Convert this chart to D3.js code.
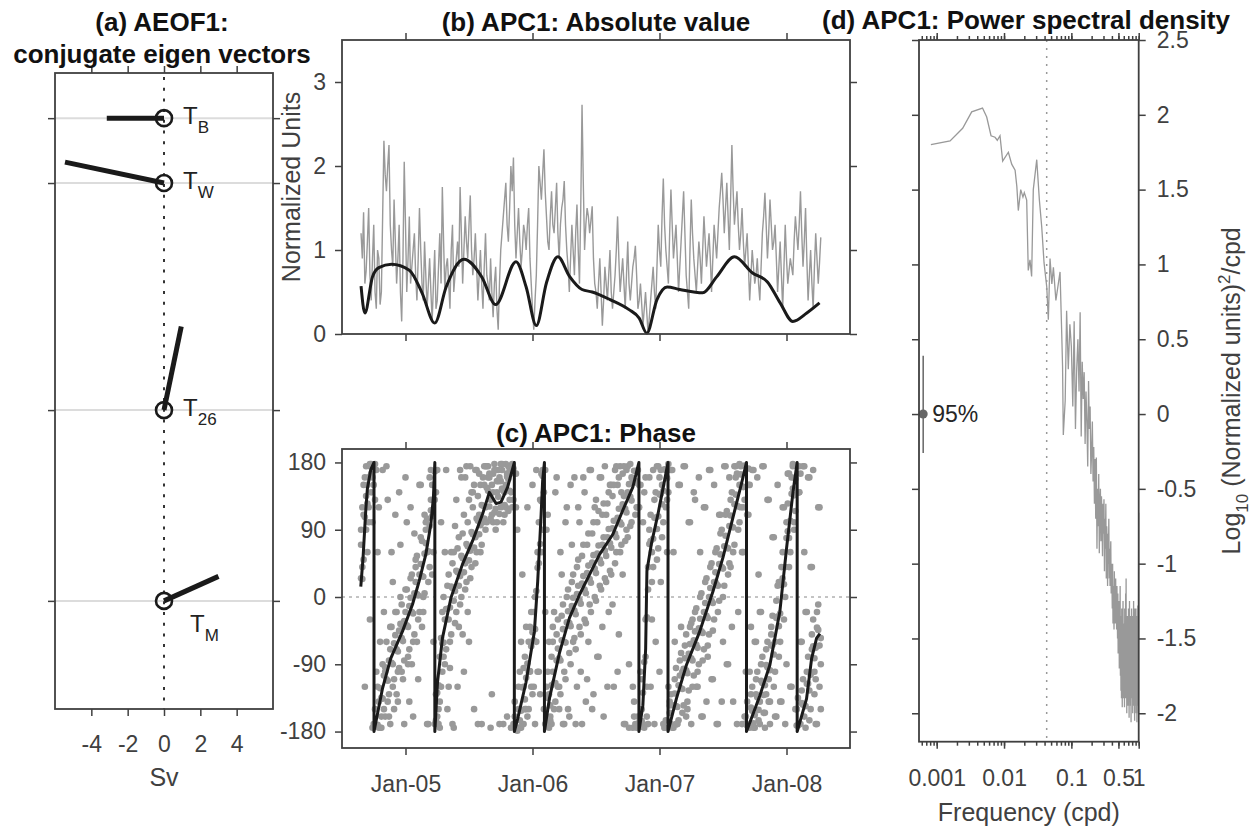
<!DOCTYPE html>
<html>
<head>
<meta charset="utf-8">
<script src="https://cdn.jsdelivr.net/npm/d3@7"></script>
<style>body{margin:0;background:#fff}</style>
</head>
<body>
<script>
// ---------------- data ----------------
// (a) conjugate eigen vector per layer
var eofNames  = ['B', 'W', '26', 'M'];
var eofLevels = [0.71, 1.73, 5.30, 8.30];
var eofU      = [-3.15, -5.45, 0.95, 3.0];
var eofV      = [0, 1.15, 4.6, 1.35];
var svTicks   = [-4, -2, 0, 2, 4];

// time axis (decimal years); samples every sampleStep, "half" arrays sit between them
var yearTicks  = [2005, 2006, 2007, 2008];
var yearLabels = ['Jan-05', 'Jan-06', 'Jan-07', 'Jan-08'];
var sampleStart = 2004.65, sampleStep = 0.02;

// (b) absolute value
var absRaw = [1.2,1.45,0.75,1.5, 0.4,1.3,0.3,0.9,0.5, 2.3,1.7, 2.25, 1.0,1.6,0.6,1.3,0.15, 2.05,
  0.5,1.4,0.8,1.2,0.4,1.5,0.6,1.1, 0.3,0.9,0.15,1.0,0.4,1.2,1.75, 0.5,0.9,0.3,1.3,0.7,1.1,
  1.75,0.6,1.4,0.9,1.65,0.7,1.2, 0.4,1.0,0.3,1.2,0.6,0.9,0.2,0.8,0.05,1.0, 1.4,1.8,1.1,2.0,2.1,
  0.9,1.5,0.8,1.3,1.0,1.5,0.6, 0.05,0.7,2.0,1.6,2.2,1.4, 1.0,1.7,1.2,1.8,0.9,1.5,1.82,1.0,
  0.5,1.3,0.7,1.54,0.6, 2.73, 1.0,1.5,1.2,1.52, 0.6,0.3,0.9,0.1,0.8,0.4,1.0,0.3,0.7, 1.4,
  0.5,0.9,0.3,1.1,0.4,0.8,1.05, 0.3,0.6,0.1,0.5,0.0, 0.4,0.8,0.3,1.3, 0.8,1.85,1.0,
  0.6,1.72,0.9,1.3,0.5,1.1,1.7, 0.7,0.3,1.6,0.9,0.5, 1.1,0.6,1.4,0.8,1.2,0.5,1.3, 0.9,1.5,1.92,
  1.2,1.8,1.0,2.25, 1.3,1.7,1.0,1.5,0.8,1.2, 0.4,1.0,0.6,0.9,0.4, 1.2,1.68,0.9,1.6,1.0,1.3,
  0.5,1.1,0.3,1.3,0.6,0.9, 0.7,1.4,1.0,1.7,0.8,1.5, 0.4,1.0,0.3,1.2,0.6,1.15];
var absRawHalf = [0.9,0.6,1.1,0.7,0.9,0.5,1.0,0.35,1.4, 1.9,2.0,1.3,0.8,1.1,0.9,0.5,0.9,
  1.3,0.9,0.6,1.0,0.7,0.9,1.0,0.4,0.7, 0.6,0.5,0.6,0.3,0.8,0.6,1.1, 0.8,0.6,1.0,0.5,0.9,0.8,
  1.2,1.0,1.1,1.3,1.0,0.9,0.8, 0.7,0.6,0.8,0.7,0.4,0.5,0.6,0.3,0.6,1.2, 1.6,1.3,1.5,1.7,1.3,
  1.2,1.1,1.0,1.2,1.3,0.9,0.3, 0.4,1.3,1.8,1.9,1.7,1.1, 1.4,1.3,1.5,1.2,1.3,1.6,1.3,0.8,
  0.9,1.0,1.2,1.0,1.5, 1.8, 1.3,1.4,1.35,0.9, 0.5,0.6,0.5,0.4,0.6,0.7,0.5,0.5,1.0, 0.9,
  0.7,0.6,0.7,0.6,0.6,0.9,0.7, 0.4,0.35,0.3,0.25,0.2, 0.6,0.5,0.8,1.0, 1.4,1.3,0.8,
  1.2,1.3,1.1,0.9,0.8,1.4,1.2, 0.5,1.0,1.2,0.7,0.8, 0.9,1.0,1.1,1.0,0.9,0.9,1.1, 1.2,1.7,1.6,
  1.5,1.4,1.6,1.7, 1.5,1.3,1.2,1.1,1.0,0.8, 0.7,0.8,0.7,0.6,0.8, 1.4,1.3,1.2,1.3,1.1,0.9,
  0.8,0.7,0.8,0.9,0.75,0.8, 1.1,1.2,1.3,1.2,1.1,0.9, 0.7,0.6,0.8,0.9,0.85];
var absSmoothT = [2004.65,2004.68,2004.74,2004.79,2004.89,2005.03,2005.13,2005.23,2005.32,2005.46,
  2005.60,2005.71,2005.87,2005.95,2006.03,2006.11,2006.20,2006.29,2006.39,2006.47,2006.61,2006.76,
  2006.84,2006.90,2006.98,2007.06,2007.16,2007.34,2007.45,2007.59,2007.73,2007.85,2007.95,2008.05,
  2008.16,2008.26];
var absSmoothV = [0.57,0.25,0.68,0.79,0.83,0.76,0.49,0.13,0.56,0.89,0.68,0.35,0.86,0.56,0.10,0.61,
  0.92,0.69,0.53,0.50,0.41,0.29,0.19,0.01,0.41,0.56,0.53,0.49,0.68,0.92,0.73,0.62,0.37,0.15,0.25,0.37];
var absTicks = [0, 1, 2, 3];

// (c) phase dots (degrees)
var phaseTicks = [-180, -90, 0, 90, 180];
var phaseNear = [25,50,135,160,165,175,-172,-140,-135,-105, -110,-85,-88,-62,-70,-45,-55,-32,-38,-12,
  -20,5,4,30,28,58,60,95,108,168, -128,-80,-62,-30,-16,-14,12,8,33,28, 52,45,68,62,84,80,102,96,122,120,
  142,130,140,118,134,120,142,150,158,170, 172,-176,-150,-152,-120,-108,-100,-66,-58,8,
  45,128,170,-168,-130,-118,-115,-85,-82,-58, -60,-34,-35,-12,-18,4,-4,18,10,32,
  24,46,38,58,50,70,62,80,72,92, 85,106,100,124,118,140,134,156,155,170,
  -174,-128,-80,40,75,78,106,108,138,142, 170,178,-170,-145,-146,-118,-122,-96,-98,-76,
  -82,-58,-64,-42,-46,-20,-25,0,-5,20, 17,44,40,68,66,95,94,124,122,150,
  148,176,-172,-175,-152,-158,-134,-140,-115,-118, -94,-98,-64,-60,-26,-22,25,40,88,102,
  145,158,-172,-170,-144,-146,-116,-104,-66,-68, -44,-55];
var phaseMid = [70,110,90,120,140,150,170,-175,-160,-150, -60,-130,-40,-110,-20,-95,-10,-85,10,-70,
  30,-50,55,-20,75,5,105,40,150,130, -160,-140,-20,-90,15,-60,45,-35,65,-10,
  85,10,100,25,120,45,135,60,160,90, 175,105,165,90,170,155,100,178,115,140,
  -170,165,-120,-175,-95,-150,-60,-120,-20,-60, 100,60,140,-120,-175,-80,-150,-50,-120,-25,
  -100,0,-75,20,-55,40,-40,55,-30,70, -10,85,0,100,15,110,25,125,35,135,
  45,150,60,165,75,175,95,-175,110,-160, 150,-170,-30,10,110,40,140,65,170,100,
  -165,140,-130,-175,-95,-165,-75,-145,-50,-125, -35,-105,-15,-90,5,-70,25,-50,45,-30,
  65,-5,90,15,115,45,140,70,165,100, -170,130,-140,150,-120,-175,-100,-170,-80,-155,
  -60,-140,-25,-100,15,-60,60,0,125,60, 175,115,-135,165,-110,-175,-80,-150,-30,-110, -10,-90];
var phaseFar = [90,150,175,100,178,-170,-100,120,-175,-20, 175,-160,60,-150,-130,140,-100,-170,100,-140,
  -90,85,-60,150,-40,110,-170,160,30,-170, 170,-175,-100,60,-150,-95,-170,95,-120,170,
  -50,160,-20,175,140,170,-170,150,100,175, 160,-175,100,170,155,178,-170,120,175,-175,
  130,120,-175,-60,-170,-40,-150,-20,-120,170, -100,165,-150,90,-60,-170,-20,160,-150,30,
  -170,120,-160,70,160,-120,100,-170,140,-110, 170,-150,120,-80,160,-40,175,-120,150,-10,
  170,-100,175,30,-170,80,178,-120,-170,120, -100,100,160,-170,-120,170,-60,175,20,-170,
  120,-120,170,60,-170,150,-40,175,-160,100, -170,140,-120,160,-160,120,-140,170,-110,150,
  -170,110,-140,175,-90,160,-40,175,-170,178, 60,-160,110,-100,170,-60,160,-20,175,-175,
  130,-170,80,-160,150,-140,120,-170,165,-120, 178,-150,140,-60,175,-20,160,40,170,-170, 120,-150];
var phaseNearHalf = [24,107,125,178,160,178,-171,-122,-136,-94, -112,-70,-90,-51,-73,-36,-59,-20,-40,-1,
  -22,20,2,44,27,72,61,116,130,-165, -118,-55,-61,-16,-30,14,-5,35,15,55, 33,71,49,87,66,105,84,123,105,146,
  121,150,113,140,111,145,123,161,142,175, 165,-179,-165,-121,-137,-89,-99,-47,-43,39,
  71,162,170,-135,-145,-100,-115,-69,-85,-43, -61,-19,-39,-1,-23,15,-9,28,5,42,
  19,56,32,69,45,80,55,91,66,102, 80,118,97,135,113,151,129,169,153,-168,
  -166,-87,-27,71,60,106,91,137,124,171, 159,-155,-172,-129,-147,-105,-123,-82,-102,-63,
  -85,-46,-68,-29,-48,-8,-28,12,-8,33, 15,57,38,82,65,109,93,137,121,164,
  147,-169,172,-148,-169,-130,-151,-112,-131,-91, -110,-65,-77,-28,-39,16,17,79,79,138,
  136,-172,175,-142,-160,-116,-125,-70,-82,-41, -65];
var phaseMidHalf = [120,160,60,175,-175,130,-120,-175,-90,-160, -140,-40,-120,-20,-100,0,-110,10,-80,25,
  -60,50,-30,80,0,100,20,130,60,-130, -170,-120,0,-70,30,-50,60,-20,80,0,
  110,20,130,40,150,60,165,70,175,100, 160,110,170,100,160,178,110,165,130,178,
  -160,-175,-100,-170,-80,-160,-40,-130,0,-100, 130,90,-170,-100,-160,-60,-140,-30,-130,-10,
  -110,10,-90,30,-70,50,-50,70,-35,85, -20,100,-5,115,10,125,20,140,30,150,
  60,160,70,175,90,-175,100,-160,120,150, -150,-175,-120,90,20,130,50,160,80,-175,
  130,-145,-175,-110,-170,-85,-155,-65,-140,-40, -120,-20,-100,0,-85,20,-65,40,-45,60,
  -20,85,0,110,30,130,60,160,90,175, 120,-160,150,-130,-175,-110,-165,-90,-155,-70,
  -140,-40,-120,-5,-80,40,-30,100,40,160, 90,-150,140,-125,175,-100,-165,-50,-130,-20, -120];
var phaseFarHalf = [40,-120,150,-30,100,-150,60,-60,170,-100, 130,-170,20,110,-140,70,-40,160,-90,120,
  -160,40,-110,150,-20,90,-170,170,-60,140, -150,100,-80,170,-120,60,-175,130,-40,160,
  -100,175,-60,140,-150,170,110,-170,150,175, 165,-130,178,155,-170,170,140,-160,170,120,
  -140,90,-175,30,-150,120,-100,150,-170,60, -130,170,-20,110,-165,-40,140,-120,60,-170,
  100,-150,150,-60,-170,120,-100,160,-140,-60, 170,-130,130,-80,160,-160,110,-20,150,-120,
  175,-50,140,-170,170,-90,160,-140,-175,120, -110,140,-160,160,-30,-170,175,-100,150,-175,
  60,-140,170,-60,-170,150,-100,175,-150,100, -30,130,-120,60,-160,120,-80,170,-110,20,
  -170,110,-60,175,-90,40,-140,175,-20,120, 60,-100,110,-40,170,-60,30,-20,175,-130,
  130,-50,80,-160,20,-140,120,-90,165,-120, 100,-150,140,-60,60,-20,160,40,-100,-170, 120];
// (c) smoothed phase, wrapped
var phaseLineT = [2004.648,2004.666,2004.687,2004.700,2004.726,2004.752,2004.752,2004.818,2004.884,2004.976,
  2005.055,2005.107,2005.160,2005.200,2005.220,2005.231,2005.231,2005.252,2005.291,2005.358,2005.449,
  2005.528,2005.607,2005.660,2005.713,2005.752,2005.804,2005.857,2005.857,2005.883,2005.949,2006.015,
  2006.041,2006.068,2006.080,2006.094,2006.094,2006.133,2006.212,2006.291,2006.370,2006.449,2006.528,
  2006.633,2006.711,2006.790,2006.838,2006.838,2006.869,2006.891,2006.901,2006.936,2006.988,2007.040,
  2007.067,2007.067,2007.133,2007.212,2007.317,2007.422,2007.500,2007.579,2007.646,2007.685,2007.685,
  2007.790,2007.869,2007.948,2008.001,2008.053,2008.084,2008.084,2008.158,2008.198,2008.237,2008.263];
var phaseLineV = [14,53,116,145,170,180,-180,-123,-82,-46, -10,21,57,98,134,180,-180,-114,-55,-1,44,
  75,111,140,125,127,147,180,-180,-163,-114,-46, 21,111,156,180,-180,-136,-75,-28,3,30,57,
  84,116,147,180,-180,-145,-69,35,71,111,156, 180,-180,-136,-91,-46,8,53,107,152,180,-180,
  -132,-91,-19,66,143,180,-180,-136,-82,-55,-49];

// (d) power spectral density, log10 values
var psdLowF = [0.00082,0.00158,0.00243,0.00331,0.00479,0.00553,0.00641,0.00735,0.00794,0.00871,0.00955,
  0.0116,0.0130,0.0146,0.0155,0.0163,0.0177,0.0191,0.0200,0.0217,0.0229,0.0243,0.0257,0.0272,0.0306,
  0.0335,0.0363,0.0393,0.0431,0.0455,0.0482,0.0513,0.0541,0.0589,0.0679,0.0719,0.0740,0.0759,0.0810,
  0.0850,0.0900,0.0950];
var psdLowV = [1.80,1.825,1.91,2.02,2.045,1.985,1.86,1.85,1.83,1.86,1.69, 1.75,1.67,1.63,1.52,1.36,1.50,
  1.45,1.48,1.43,0.96,1.03,0.92,1.50,1.70, 1.43,1.25,1.01,0.85,0.63,1.04,0.87,0.98,0.76,0.95,0.54,0.32,
  -0.14,0.09, 0.69,0.30,0.60];
var psdHighStart = 0.1, psdHighStep = 0.005;
var psdHighV = [0.45,0.05,0.62,-0.1,0.3,0.5,0.15,0.68,-0.15,0.35,
  0.1,0.28,-0.2,0.15,-0.05,-0.35,0.22,-0.1,0.05,-0.4,
  -0.25,-0.05,-0.45,-0.22,-0.6,-0.3,-0.7,-0.29,-0.9,-0.5,
  -0.75,-0.4,-0.93,-0.6,-0.5,-0.85,-0.55,-0.7,-0.95,-0.6,
  -0.8,-0.57,-1.05,-0.7,-0.9,-0.6,-1.1,-0.75,-0.85,-1.15,
  -0.8,-1.0,-0.7,-1.1,-0.9,-1.15,-0.95,-0.85,-1.2,-1.0,
  -1.1,-1.3,-1.0,-1.4,-1.15,-1.25,-1.44,-1.05,-1.3,-1.2,
  -1.4,-1.1,-1.35,-1.2,-1.44,-1.15,-1.3,-1.5,-1.2,-1.6,
  -1.3,-1.55,-1.25,-1.7,-1.4,-1.6,-1.15,-1.75,-1.35,-1.85,
  -1.5,-1.9,-1.3,-1.7,-1.96,-1.45,-1.8,-1.25,-1.9,-1.6,
  -1.4,-1.85,-1.55,-1.96,-1.3,-1.75,-1.5,-1.9,-1.2,-1.7,
  -1.1,-1.8,-1.45,-2.0,-1.6,-1.35,-1.85,-1.55,-1.95,-1.4,
  -1.7,-1.3,-1.9,-1.5,-2.03,-1.6,-1.25,-1.85,-1.45,-1.75,
  -1.55,-1.95,-1.35,-1.7,-2.06,-1.5,-1.8,-1.3,-1.9,-1.6,
  -1.4,-1.85,-1.65,-2.0,-1.35,-1.75,-1.55,-1.95,-1.25,-1.7,
  -1.5,-1.9,-1.4,-1.8,-2.05,-1.6,-1.3,-1.85,-1.55,-1.95,
  -1.45,-1.7,-1.3,-2.0,-1.6,-1.85,-1.4,-1.75,-2.06,-1.5,
  -1.35,-1.9,-1.6,-1.8,-1.28,-1.95,-1.55,-1.7,-2.0,-1.4,
  -0.66];
var psdTicks  = [-2, -1.5, -1, -0.5, 0, 0.5, 1, 1.5, 2, 2.5];
var freqTicks = [0.001, 0.01, 0.1, 0.5, 1];
var freqCut = 0.043;
var ciFreq = 0.00063, ciLo = -0.26, ciHi = 0.39;

// ---------------- layout ----------------
var W = 1258, H = 826;
var axisCol = '#404040', ink = '#1a1a1a', grey = '#999999';
var A = {l: 55, r: 273, t: 73, b: 709};
var B = {l: 342, r: 850, t: 40, b: 334};
var C = {l: 342, r: 850, t: 449, b: 748};
var D = {l: 919, r: 1138.7, t: 40, b: 741.7};

var svg = d3.select('body').append('svg')
  .attr('width', W).attr('height', H)
  .style('font-family', '"Liberation Sans", Arial, Helvetica, sans-serif');
svg.append('rect').attr('width', W).attr('height', H).attr('fill', '#fff');

var xA = d3.scaleLinear().domain([-6, 6]).range([A.l, A.r]);
var yA = d3.scaleLinear().domain([0, 10]).range([A.t, A.b]);
var xT = d3.scaleLinear().domain([2004.5, 2008.5]).range([B.l, B.r]);
var yB = d3.scaleLinear().domain([0, 3.5]).range([B.b, B.t]);
var yC = d3.scaleLinear().domain([-202, 198]).range([C.b, C.t]);
var xD = d3.scaleLog().domain([0.000546, 1]).range([D.l, D.r]);
var yD = d3.scaleLinear().domain([-2.19, 2.5]).range([D.b, D.t]);

function addAxis(gen, tx, ty, fmt, pad, size) {
  var g = svg.append('g').attr('transform', 'translate(' + tx + ',' + ty + ')')
    .call(gen.tickSizeInner(size || 7).tickSizeOuter(0).tickPadding(pad || 9)
      .tickFormat(fmt || function() { return ''; }));
  g.attr('font-family', null).attr('font-size', null);
  g.select('.domain').remove();
  g.selectAll('.tick line').attr('stroke', axisCol).attr('stroke-width', 1.5);
  g.selectAll('.tick text').attr('fill', axisCol).style('font-size', '23px');
  return g;
}
function frame(p) {
  svg.append('rect').attr('x', p.l).attr('y', p.t)
    .attr('width', p.r - p.l).attr('height', p.b - p.t)
    .attr('fill', 'none').attr('stroke', axisCol).attr('stroke-width', 1.8);
}
function title(txt, x, y) {
  svg.append('text').attr('x', x).attr('y', y).attr('text-anchor', 'middle')
    .style('font-size', '26px').style('font-weight', 'bold').attr('fill', '#111').text(txt);
}
var str = function(d) { return String(d); };
// sample k (or k + 0.5 for the half arrays) -> decimal year
function tAt(k) { return sampleStart + k * sampleStep; }

// ---------------- (a) eigen vectors ----------------
svg.append('g').selectAll('line').data(eofLevels).enter().append('line')
  .attr('x1', A.l).attr('x2', A.r)
  .attr('y1', function(d) { return yA(d); }).attr('y2', function(d) { return yA(d); })
  .attr('stroke', '#dcdcdc').attr('stroke-width', 2);
svg.append('line').attr('x1', xA(0)).attr('x2', xA(0)).attr('y1', A.t + 4).attr('y2', A.b)
  .attr('stroke', '#333').attr('stroke-width', 2).attr('stroke-dasharray', '3,7.7');

eofNames.forEach(function(name, k) {
  var cx = xA(0), cy = yA(eofLevels[k]);
  svg.append('line').attr('x1', cx).attr('y1', cy)
    .attr('x2', xA(eofU[k])).attr('y2', cy - (xA(eofV[k]) - xA(0)))
    .attr('stroke', ink).attr('stroke-width', 5);
  svg.append('circle').attr('cx', cx).attr('cy', cy).attr('r', 8)
    .attr('fill', 'none').attr('stroke', ink).attr('stroke-width', 2.6);
  // bottom label sits under its vector
  var below = name === 'M';
  var t = svg.append('text').attr('x', cx + (below ? 26 : 19)).attr('y', cy + (below ? 31 : 6))
    .attr('fill', '#222').style('font-size', '24px');
  t.append('tspan').text('T');
  t.append('tspan').attr('dy', 9).style('font-size', '17px').text(name);
});
frame(A);
addAxis(d3.axisBottom(xA).tickValues(svTicks), 0, A.b, str, 20);
addAxis(d3.axisTop(xA).tickValues(svTicks), 0, A.t);
addAxis(d3.axisLeft(yA).tickValues(eofLevels), A.l, 0);
addAxis(d3.axisRight(yA).tickValues(eofLevels), A.r, 0);
svg.append('text').attr('x', xA(0)).attr('y', 786).attr('text-anchor', 'middle')
  .attr('fill', axisCol).style('font-size', '25px').text('Sv');
title('(a) AEOF1:', 162, 31);
title('conjugate eigen vectors', 162, 63);

// ---------------- (b) absolute value ----------------
var rawPts = [];
absRaw.forEach(function(v, i) {
  rawPts.push([tAt(i), v]);
  if (i < absRawHalf.length) rawPts.push([tAt(i + 0.5), absRawHalf[i]]);
});
svg.append('path').datum(rawPts)
  .attr('d', d3.line().x(function(d) { return xT(d[0]); }).y(function(d) { return yB(d[1]); }))
  .attr('fill', 'none').attr('stroke', grey).attr('stroke-width', 1.4);
var smoothPts = absSmoothT.map(function(t, i) { return [t, absSmoothV[i]]; });
svg.append('path').datum(smoothPts)
  .attr('d', d3.line().curve(d3.curveMonotoneX)
    .x(function(d) { return xT(d[0]); }).y(function(d) { return yB(d[1]); }))
  .attr('fill', 'none').attr('stroke', ink).attr('stroke-width', 3);
frame(B);
addAxis(d3.axisBottom(xT).tickValues(yearTicks), 0, B.b);
addAxis(d3.axisTop(xT).tickValues(yearTicks), 0, B.t);
addAxis(d3.axisLeft(yB).tickValues(absTicks), B.l, 0, str, 9);
addAxis(d3.axisRight(yB).tickValues(absTicks), B.r, 0);
svg.append('text').attr('transform', 'translate(300,' + ((B.t + B.b) / 2) + ') rotate(-90)')
  .attr('text-anchor', 'middle').attr('fill', axisCol).style('font-size', '25px').text('Normalized Units');
title('(b) APC1: Absolute value', (B.l + B.r) / 2, 31);

// ---------------- (c) phase ----------------
svg.append('line').attr('x1', C.l).attr('x2', C.r).attr('y1', yC(0)).attr('y2', yC(0))
  .attr('stroke', '#888').attr('stroke-width', 1).attr('stroke-dasharray', '3,4');
var dots = [];
[phaseFar, phaseMid, phaseNear].forEach(function(arr) {
  arr.forEach(function(v, i) { dots.push([tAt(i), v]); });
});
[phaseFarHalf, phaseMidHalf, phaseNearHalf].forEach(function(arr) {
  arr.forEach(function(v, i) { dots.push([tAt(i + 0.5), v]); });
});
svg.append('g').selectAll('circle').data(dots).enter().append('circle')
  .attr('cx', function(d) { return xT(d[0]); }).attr('cy', function(d) { return yC(d[1]); })
  .attr('r', 3.3).attr('fill', grey);
var phasePts = phaseLineT.map(function(t, i) { return [t, phaseLineV[i]]; });
svg.append('path').datum(phasePts)
  .attr('d', d3.line().x(function(d) { return xT(d[0]); }).y(function(d) { return yC(d[1]); }))
  .attr('fill', 'none').attr('stroke', ink).attr('stroke-width', 3).attr('stroke-linejoin', 'round');
frame(C);
addAxis(d3.axisBottom(xT).tickValues(yearTicks), 0, C.b,
  function(d, i) { return yearLabels[i]; }, 21);
addAxis(d3.axisTop(xT).tickValues(yearTicks), 0, C.t);
addAxis(d3.axisLeft(yC).tickValues(phaseTicks), C.l, 0, str, 9);
addAxis(d3.axisRight(yC).tickValues(phaseTicks), C.r, 0);
title('(c) APC1: Phase', (C.l + C.r) / 2, 442);

// ---------------- (d) power spectral density ----------------
var psdPts = psdLowF.map(function(f, i) { return [f, psdLowV[i]]; })
  .concat(psdHighV.map(function(v, k) { return [psdHighStart + k * psdHighStep, v]; }));
svg.append('line').attr('x1', xD(freqCut)).attr('x2', xD(freqCut)).attr('y1', D.t).attr('y2', D.b)
  .attr('stroke', grey).attr('stroke-width', 1.5).attr('stroke-dasharray', '2,6');
svg.append('path').datum(psdPts)
  .attr('d', d3.line().x(function(d) { return xD(d[0]); }).y(function(d) { return yD(d[1]); }))
  .attr('fill', 'none').attr('stroke', grey).attr('stroke-width', 1.3);
svg.append('line').attr('x1', xD(ciFreq)).attr('x2', xD(ciFreq))
  .attr('y1', yD(ciHi)).attr('y2', yD(ciLo)).attr('stroke', '#666').attr('stroke-width', 1.5);
svg.append('circle').attr('cx', xD(ciFreq)).attr('cy', yD(0)).attr('r', 4.5).attr('fill', '#666');
svg.append('text').attr('x', xD(ciFreq) + 9).attr('y', yD(0) + 8)
  .attr('fill', '#262626').style('font-size', '23px').text('95%');
frame(D);
var minorF = [];
[-4, -3, -2, -1, 0].forEach(function(n) {
  for (var k = 1; k <= 9; k++) {
    var f = k * Math.pow(10, n);
    if (f >= xD.domain()[0] && f <= 1.0001) minorF.push(f);
  }
});
addAxis(d3.axisBottom(xD).tickValues(minorF), 0, D.b, null, 9, 4);
addAxis(d3.axisTop(xD).tickValues(minorF), 0, D.t, null, 9, 4);
addAxis(d3.axisBottom(xD).tickValues(freqTicks), 0, D.b, str, 21);
addAxis(d3.axisTop(xD).tickValues(freqTicks), 0, D.t);
addAxis(d3.axisLeft(yD).tickValues(psdTicks), D.l, 0);
addAxis(d3.axisRight(yD).tickValues(psdTicks), D.r, 0, str, 11);
svg.append('text').attr('x', (D.l + D.r) / 2).attr('y', 821).attr('text-anchor', 'middle')
  .attr('fill', axisCol).style('font-size', '25px').text('Frequency (cpd)');
var yl = svg.append('text').attr('transform', 'translate(1240,' + ((D.t + D.b) / 2) + ') rotate(-90)')
  .attr('text-anchor', 'middle').attr('fill', axisCol).style('font-size', '25px');
yl.append('tspan').text('Log');
yl.append('tspan').attr('dy', 8).style('font-size', '17px').text('10');
yl.append('tspan').attr('dy', -8).text(' (Normalized units)');
yl.append('tspan').attr('dy', -10).style('font-size', '17px').text('2');
yl.append('tspan').attr('dy', 10).text('/cpd');
title('(d) APC1: Power spectral density', 1026, 29);
</script>
</body>
</html>
